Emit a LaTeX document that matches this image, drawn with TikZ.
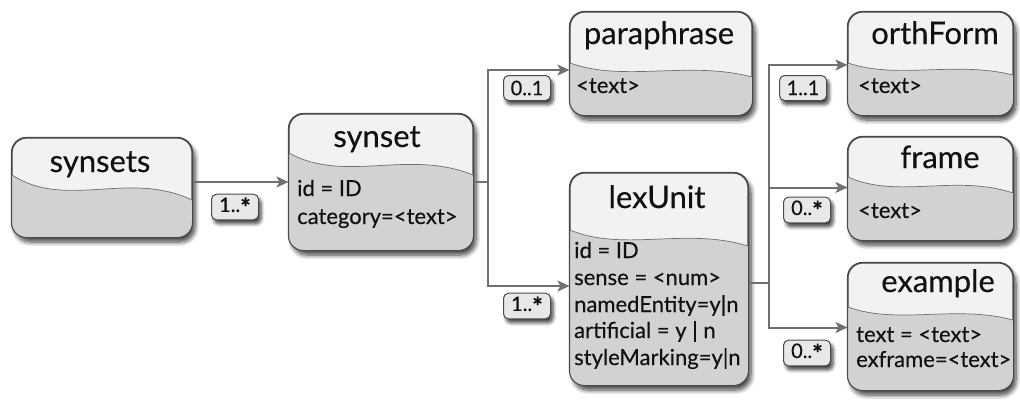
\documentclass[tikz,border=0pt]{standalone}
\usepackage{fontspec}
\setmainfont{Lato}[FakeBold=0.3]
\usetikzlibrary{arrows.meta,calc,shadows.blur}
\definecolor{topfill}{HTML}{F2F2F2}
\definecolor{lowfill}{HTML}{D2D2D2}
\definecolor{bordercol}{HTML}{4A4A4A}
\definecolor{linecol}{HTML}{707070}
\definecolor{lblfill}{HTML}{E8E8E8}
\definecolor{txtcol}{HTML}{111111}
\newcommand\bigstarmark{\raisebox{-0.45ex}{\fontsize{25}{25}\selectfont\bfseries *}}
\tikzset{
  entity/.style={rectangle, rounded corners=15pt, draw=bordercol, line width=1.1pt, fill=topfill,
    blur shadow={shadow xshift=3pt, shadow yshift=-5pt, shadow blur steps=8, shadow blur radius=4.5pt, shadow opacity=75}},
  entborder/.style={draw=bordercol, line width=1.1pt, rounded corners=15pt},
  wavelow/.style={fill=lowfill},
  waveline/.style={draw=bordercol!80, line width=0.7pt},
  ttl/.style={anchor=base, inner sep=0pt, text=txtcol, font=\fontsize{31}{34}\selectfont},
  attr/.style={anchor=base west, inner sep=0pt, text=txtcol, font=\fontsize{22}{25}\selectfont},
  lbl/.style={rectangle, rounded corners=5pt, draw=bordercol, line width=1pt, fill=lblfill,
    minimum height=25pt, minimum width=47pt, inner xsep=4pt, text=txtcol, font=\fontsize{20}{22}\selectfont,
    blur shadow={shadow xshift=2.5pt, shadow yshift=-4pt, shadow blur steps=6, shadow blur radius=3.5pt, shadow opacity=75}},
  conn/.style={draw=linecol, line width=2pt},
  arr/.style={conn, -{Stealth[length=12pt,width=11pt,inset=3pt]}},
}
% #1 name, #2 x0, #3 y0, #4 x1, #5 y1, #6 wave left y, #7 wave right y
\newcommand\entitybox[7]{%
  \node[entity, minimum width={(#4-#2)*1pt}, minimum height={(#5-#3)*1pt}] (#1) at ({(#2+#4)/2},{(#3+#5)/2}) {};
  \begin{scope}
    \clip[rounded corners=15pt] (#1.north west) rectangle (#1.south east);
    \fill[wavelow] (#2,#6) .. controls ({#2+0.3*(#4-#2)},{#6+1.4*(#7-#6)}) and ({#2+0.65*(#4-#2)},{#6-0.2*(#7-#6)}) .. (#4,#7) -- (#4,#5) -- (#2,#5) -- cycle;
    \draw[waveline] (#2,#6) .. controls ({#2+0.3*(#4-#2)},{#6+1.4*(#7-#6)}) and ({#2+0.65*(#4-#2)},{#6-0.2*(#7-#6)}) .. (#4,#7);
  \end{scope}
  \draw[entborder] (#1.north west) rectangle (#1.south east);
}
\begin{document}
\begin{tikzpicture}[x=1pt,y=-1pt]
\useasboundingbox (0,0) rectangle (1020,399);

% entity boxes
\entitybox{synsets}{12}{138}{192}{237}{175}{200}
\entitybox{synset}{289}{114}{473}{250}{153}{175}
\entitybox{paraphrase}{570}{12}{752}{115}{63}{77}
\entitybox{lexUnit}{570}{173}{748}{385}{230}{246}
\entitybox{orthForm}{848}{12}{1013}{115}{63}{75}
\entitybox{frame}{848}{137}{1013}{240}{177}{193}
\entitybox{example}{848}{263}{1013}{390}{307}{320}

% titles
\node[ttl] (synsets-t) at (100,172) {synsets};
\node[ttl] (synset-t) at (377,147) {synset};
\node[ttl] (paraphrase-t) at (659,44) {paraphrase};
\node[ttl] (lexUnit-t) at (657,208) {lexUnit};
\node[ttl] (orthForm-t) at (935,44) {orthForm};
\node[ttl] (frame-t) at (940,168) {frame};
\node[ttl] (example-t) at (938,292) {example};

% attributes
\node[attr] (synset-a1) at (297,196) {id = ID};
\node[attr] (synset-a2) at (297,224) {category=<text>};
\node[attr] (paraphrase-a1) at (576,93) {<text>};
\node[attr] (lexUnit-a1) at (574,258) {id = ID};
\node[attr] (lexUnit-a2) at (574,285) {sense = <num>};
\node[attr] (lexUnit-a3) at (574,312) {namedEntity=y|n};
\node[attr] (lexUnit-a4) at (574,338) {artificial = y | n};
\node[attr] (lexUnit-a5) at (574,365) {styleMarking=y|n};
\node[attr] (orthForm-a1) at (858,93) {<text>};
\node[attr] (frame-a1) at (858,218) {<text>};
\node[attr] (example-a1) at (856,342) {text = <text>};
\node[attr] (example-a2) at (856,367) {exframe=<text>};

% connectors
\coordinate (b1) at (488,182);
\coordinate (b2) at (769,283);
\draw[arr] (synsets.east |- synset.west) -- (synset.west);
\draw[conn] (synset.east) -- (b1);
\draw[arr] (b1) |- ([yshift=-6.5pt]paraphrase.west);
\draw[arr] (b1) |- ([yshift=-7pt]lexUnit.west);
\draw[conn] ([yshift=-4pt]lexUnit.east) -- (b2);
\draw[arr] (b2) |- ([yshift=-1.5pt]orthForm.west);
\draw[arr] (b2) |- ([yshift=1pt]frame.west);
\draw[arr] (b2) |- ([yshift=-1pt]example.west);

% multiplicity labels
\node[lbl] (m1) at (235,207) {1..\bigstarmark};
\node[lbl] (m2) at (527,88) {0..1};
\node[lbl] (m3) at (527,306) {1..\bigstarmark};
\node[lbl] (m4) at (803,88) {1..1};
\node[lbl] (m5) at (807,210) {0..\bigstarmark};
\node[lbl] (m6) at (807,353) {0..\bigstarmark};
\end{tikzpicture}
\end{document}
